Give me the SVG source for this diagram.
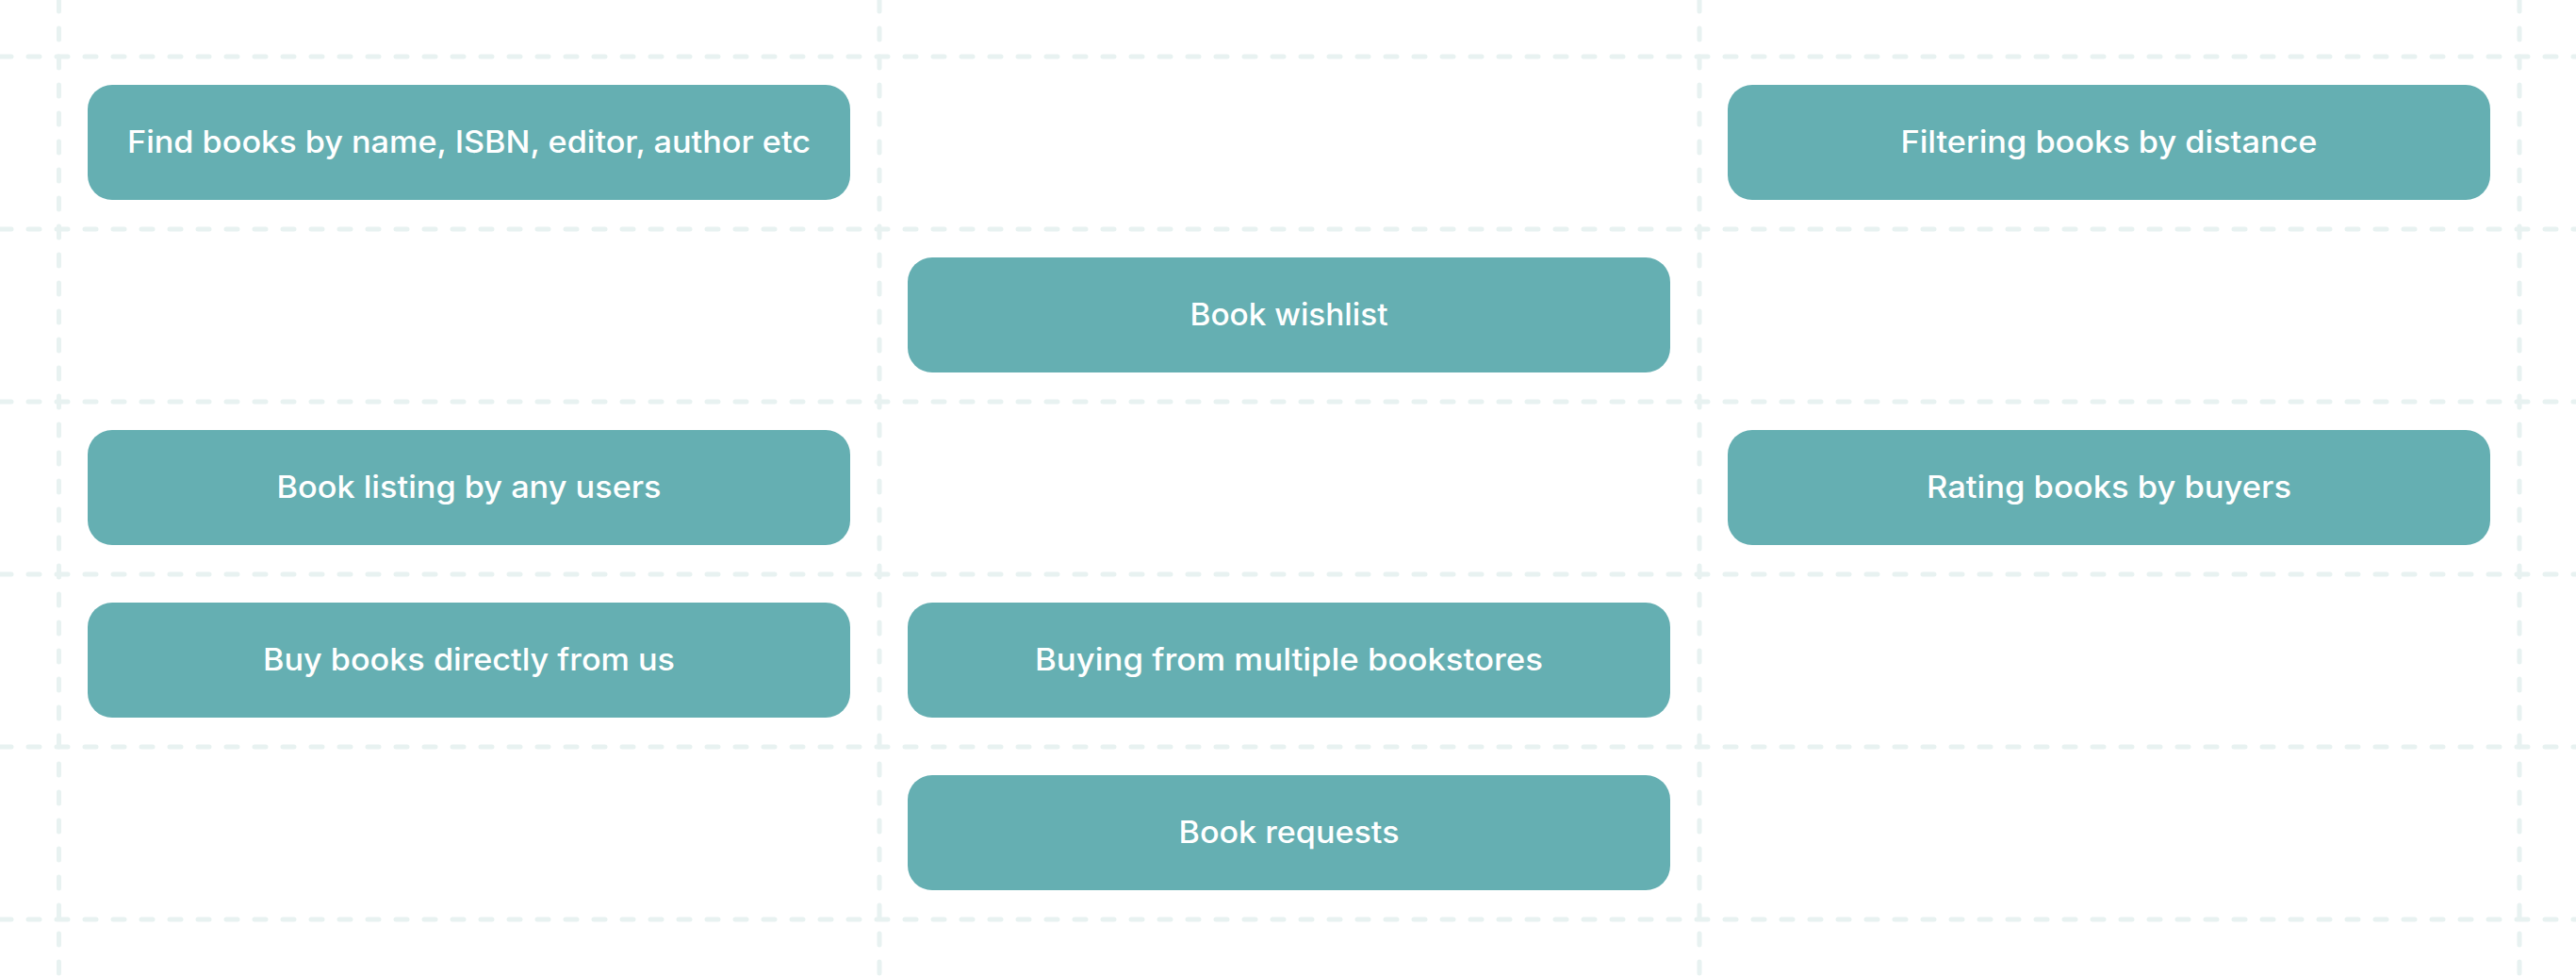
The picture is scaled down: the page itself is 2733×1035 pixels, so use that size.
<svg xmlns="http://www.w3.org/2000/svg" width="2733" height="1035" viewBox="0 0 2733 1035">
<style>
.grid{stroke:#E8F2F1;stroke-width:5;stroke-dasharray:12 18;stroke-linecap:round;fill:none}
.box{fill:#65AFB2}
.lbl{fill:#FFFFFF;font-family:"Inter","Open Sans","Liberation Sans",sans-serif;font-size:32px;font-weight:500;text-anchor:middle}
</style>
<rect width="2733" height="1035" fill="#FFFFFF"/>
<g id="grid">
<line class="grid" x1="0" y1="60" x2="2733" y2="60"/>
<line class="grid" x1="0" y1="243" x2="2733" y2="243"/>
<line class="grid" x1="0" y1="426" x2="2733" y2="426"/>
<line class="grid" x1="0" y1="609" x2="2733" y2="609"/>
<line class="grid" x1="0" y1="792" x2="2733" y2="792"/>
<line class="grid" x1="0" y1="975" x2="2733" y2="975"/>
<line class="grid" x1="62.5" y1="0" x2="62.5" y2="1035"/>
<line class="grid" x1="933" y1="0" x2="933" y2="1035"/>
<line class="grid" x1="1803" y1="0" x2="1803" y2="1035"/>
<line class="grid" x1="2673" y1="0" x2="2673" y2="1035"/>
</g>
<g id="connectors"></g>
<g id="n-find"><rect class="box" x="93" y="90" width="809" height="122" rx="26"/><text class="lbl" x="497.5" y="162" textLength="725" lengthAdjust="spacingAndGlyphs">Find books by name, ISBN, editor, author etc</text></g>
<g id="n-filter"><rect class="box" x="1833" y="90" width="809" height="122" rx="26"/><text class="lbl" x="2237.5" y="162" textLength="442" lengthAdjust="spacingAndGlyphs">Filtering books by distance</text></g>
<g id="n-wishlist"><rect class="box" x="963" y="273" width="809" height="122" rx="26"/><text class="lbl" x="1367.5" y="345" textLength="210" lengthAdjust="spacingAndGlyphs">Book wishlist</text></g>
<g id="n-listing"><rect class="box" x="93" y="456" width="809" height="122" rx="26"/><text class="lbl" x="497.5" y="528" textLength="408" lengthAdjust="spacingAndGlyphs">Book listing by any users</text></g>
<g id="n-rating"><rect class="box" x="1833" y="456" width="809" height="122" rx="26"/><text class="lbl" x="2237.5" y="528" textLength="387" lengthAdjust="spacingAndGlyphs">Rating books by buyers</text></g>
<g id="n-buy"><rect class="box" x="93" y="639" width="809" height="122" rx="26"/><text class="lbl" x="497.5" y="711" textLength="437" lengthAdjust="spacingAndGlyphs">Buy books directly from us</text></g>
<g id="n-multi"><rect class="box" x="963" y="639" width="809" height="122" rx="26"/><text class="lbl" x="1367.5" y="711" textLength="539" lengthAdjust="spacingAndGlyphs">Buying from multiple bookstores</text></g>
<g id="n-requests"><rect class="box" x="963" y="822" width="809" height="122" rx="26"/><text class="lbl" x="1367.5" y="894" textLength="234" lengthAdjust="spacingAndGlyphs">Book requests</text></g>
</svg>
